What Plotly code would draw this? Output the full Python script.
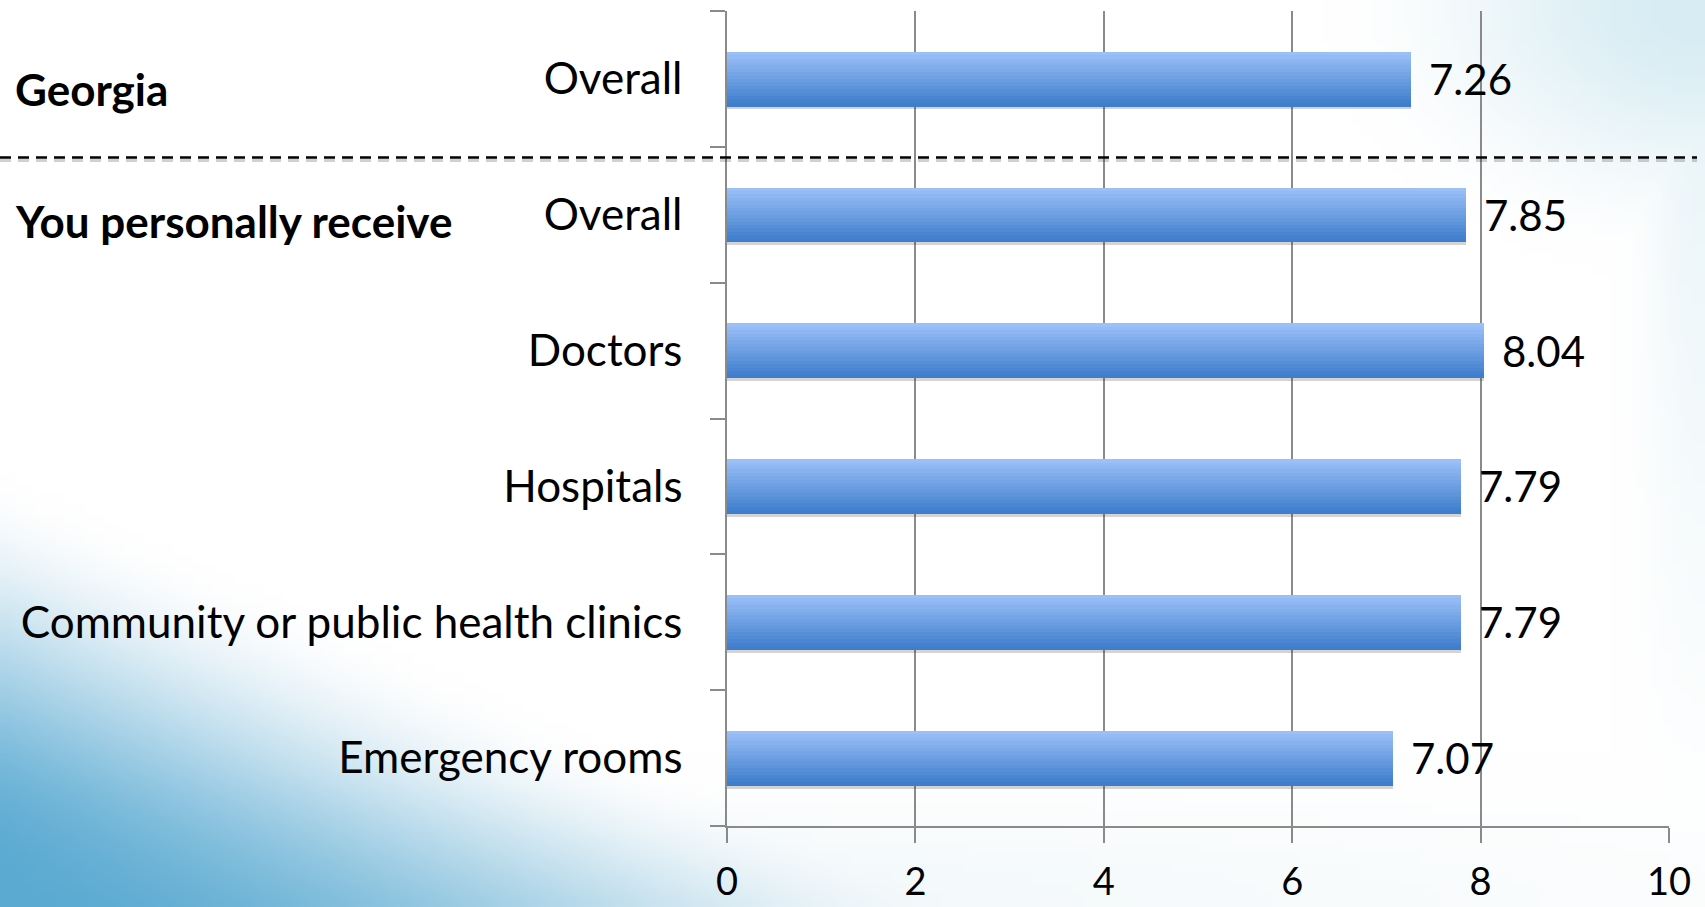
import base64, struct, zlib
import numpy as np
import plotly.graph_objects as go

# ---------------- data ----------------
categories = ["Overall", "Overall", "Doctors", "Hospitals",
              "Community or public health clinics", "Emergency rooms"]
values = [7.26, 7.85, 8.04, 7.79, 7.79, 7.07]
group_labels = ["Georgia", "You personally receive"]
x_ticks = [0, 2, 4, 6, 8, 10]

W, H = 1705, 907
ML, MR, MT, MB = 727, 36, 11, 81
PW, PH = W - ML - MR, H - MT - MB

# ---------------- background image (soft blue gradient) ----------------
def make_png(arr):
    h, w, _ = arr.shape
    raw = b"".join(b"\x00" + arr[i].tobytes() for i in range(h))
    def chunk(t, d):
        c = struct.pack(">I", len(d)) + t + d
        return c + struct.pack(">I", zlib.crc32(t + d) & 0xFFFFFFFF)
    ihdr = struct.pack(">IIBBBBB", w, h, 8, 2, 0, 0, 0)
    return (b"\x89PNG\r\n\x1a\n" + chunk(b"IHDR", ihdr) +
            chunk(b"IDAT", zlib.compress(raw, 9)) + chunk(b"IEND", b""))

def smooth(t):
    t = np.clip(t, 0, 1)
    return t * t * (3 - 2 * t)

gw, gh = 171, 91
u = np.linspace(0, 1, gw)[None, :].repeat(gh, 0)
v = np.linspace(0, 1, gh)[:, None].repeat(gw, 1)
img = np.ones((gh, gw, 3)) * 255.0
# bottom-left blue
s = v - 0.53 - 0.85 * u
f1 = smooth(s / 0.47) ** 0.9
c1 = np.array([80, 165, 208])
img = img * (1 - f1[..., None]) + c1 * f1[..., None]
# bottom band faint
f3 = smooth((v - 0.84) / 0.16) * 0.16 * np.clip(1.2 - u, 0, 1)
c3 = np.array([150, 200, 220])
img = img * (1 - f3[..., None]) + c3 * f3[..., None]
# top-right cyan
d = np.sqrt(((1 - u) / 0.22) ** 2 + (v / 0.30) ** 2)
f2 = smooth(1 - d) * 0.5
strip = smooth(1 - (1 - u) / 0.05) * np.clip(1 - v / 0.9, 0, 1) * 0.3
f2 = np.maximum(f2, strip)
c2 = np.array([175, 218, 232])
img = img * (1 - f2[..., None]) + c2 * f2[..., None]
bg_src = "data:image/png;base64," + base64.b64encode(
    make_png(np.clip(img, 0, 255).astype(np.uint8))).decode()

# ---------------- figure ----------------
fig = go.Figure()
ypos = list(range(len(categories)))
bar_w = 0.40

# shadow
fig.add_trace(go.Bar(x=values, y=ypos, orientation="h", width=bar_w,
                     offset=-bar_w / 2 + 0.025,
                     marker=dict(color="rgba(60,60,60,0.22)", line=dict(width=0)),
                     hoverinfo="skip", showlegend=False))

# gradient slices
N = 16
top = np.array([155, 192, 248])
bot = np.array([62, 126, 204])
for k in range(N):
    t = k / (N - 1)
    c = top * (1 - t) + bot * t
    fig.add_trace(go.Bar(
        x=values, y=ypos, orientation="h",
        width=bar_w / N + 0.004, offset=-bar_w / 2 + k * bar_w / N,
        marker=dict(color="rgb(%d,%d,%d)" % tuple(c.astype(int)), line=dict(width=0)),
        hoverinfo="skip", showlegend=False))

annotations = []
for i, val in enumerate(values):
    annotations.append(dict(x=val, y=i, xref="x", yref="y", text=f"{val:.2f}",
                            showarrow=False, xanchor="left", yanchor="middle",
                            xshift=16, font=dict(family="Lato", size=42, color="black")))

def px_to_paper_x(px):
    return (px - ML) / PW

def px_to_paper_y(py):
    return (H - MB - py) / PH

for txt, py in zip(group_labels, [89, 221]):
    annotations.append(dict(x=px_to_paper_x(13), y=px_to_paper_y(py), xref="paper", yref="paper",
                            text="<b>%s</b>" % txt, showarrow=False,
                            xanchor="left", yanchor="middle",
                            font=dict(family="Lato", size=44, color="black")))

shapes = [
    dict(type="line", xref="paper", yref="paper",
         x0=px_to_paper_x(0), x1=px_to_paper_x(1697),
         y0=px_to_paper_y(160.5), y1=px_to_paper_y(160.5),
         line=dict(color="rgba(0,0,0,0.18)", width=3, dash="11px,7px")),
    dict(type="line", xref="paper", yref="paper",
         x0=px_to_paper_x(0), x1=px_to_paper_x(1697),
         y0=px_to_paper_y(157.5), y1=px_to_paper_y(157.5),
         line=dict(color="black", width=2.5, dash="11px,7px")),
]

axis_col = "#8a8a8a"
fig.update_layout(
    width=W, height=H, autosize=False,
    margin=dict(l=ML, r=MR, t=MT, b=MB, pad=0, autoexpand=False),
    barmode="overlay", bargap=0,
    paper_bgcolor="white", plot_bgcolor="rgba(0,0,0,0)",
    showlegend=False,
    annotations=annotations, shapes=shapes,
    images=[dict(source=bg_src, xref="paper", yref="paper",
                 x=px_to_paper_x(0), y=px_to_paper_y(0),
                 sizex=W / PW, sizey=H / PH, sizing="stretch",
                 xanchor="left", yanchor="top", layer="below", opacity=1)],
    font=dict(family="Lato", color="black"),
)
fig.update_xaxes(range=[0, 10], tickvals=x_ticks, ticktext=[str(t) for t in x_ticks],
                 automargin=False,
                 ticks="outside", ticklen=15, tickcolor=axis_col, tickwidth=1.5,
                 showgrid=True, gridcolor=axis_col, gridwidth=1.5,
                 showline=True, linecolor=axis_col, linewidth=1.5, zeroline=False,
                 tickfont=dict(family="Lato", size=38, color="black"),
                 ticklabelstandoff=7)
fig.update_yaxes(range=[len(categories) - 0.5, -0.5], tickvals=ypos, ticktext=categories,
                 automargin=False,
                 ticks="", showgrid=False, zeroline=False,
                 showline=True, linecolor=axis_col, linewidth=1.5,
                 tickfont=dict(family="Lato", size=44, color="black"),
                 ticklabelstandoff=34,
                 minor=dict(tickmode="array",
                            tickvals=[i - 0.5 for i in range(len(categories) + 1)],
                            ticks="outside", ticklen=15, tickcolor=axis_col, tickwidth=1.5,
                            showgrid=False))

fig.write_html("out.html", config={"displayModeBar": False},
               post_script="document.body.style.margin='0';document.body.style.overflow='hidden';")
